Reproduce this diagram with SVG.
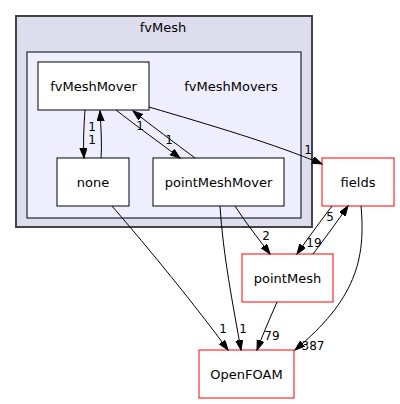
<svg xmlns="http://www.w3.org/2000/svg" width="400" height="404" viewBox="0 0 400 404">
<defs>
<marker id="ah" markerUnits="userSpaceOnUse" markerWidth="11" markerHeight="9" refX="10" refY="3.5" orient="auto">
<path d="M0,0 L10,3.5 L0,7 z" fill="#000" stroke="#000" stroke-width="1"/>
</marker>
</defs>
<style>
text{font-family:"DejaVu Sans","Liberation Sans",sans-serif;font-size:13px;fill:#000}
.c{text-anchor:middle}
.l{font-size:12px}
.node{fill:#fff;stroke:#000;stroke-width:1}
.red{fill:#fff;stroke:#ff0000;stroke-width:1}
.e{fill:none;stroke:#000;stroke-width:1;marker-end:url(#ah)}
</style>
<rect width="400" height="404" fill="#fff"/>
<g id="cluster_fvMesh">
<rect x="16" y="16" width="296" height="211" fill="#ddddee" stroke="#444444" stroke-width="2"/>
<text class="c" x="163" y="32">fvMesh</text>
</g>
<g id="cluster_fvMeshMovers">
<rect x="27" y="52" width="274" height="166" fill="#eeeeff" stroke="#000" stroke-width="1"/>
<text class="c" x="231" y="90.5">fvMeshMovers</text>
</g>
<g id="node_fvMeshMover">
<rect class="node" x="38" y="62" width="111" height="48"/>
<text class="c" x="93.5" y="90.5">fvMeshMover</text>
</g>
<g id="node_none">
<rect class="node" x="57" y="158" width="72" height="48"/>
<text class="c" x="93" y="186.5">none</text>
</g>
<g id="node_pointMeshMover">
<rect class="node" x="153" y="158" width="131" height="48"/>
<text class="c" x="218.5" y="186.5">pointMeshMover</text>
</g>
<g id="node_fields">
<rect class="red" x="322" y="158" width="72" height="48"/>
<text class="c" x="358" y="186.5">fields</text>
</g>
<g id="node_pointMesh">
<rect class="red" x="242" y="254" width="91" height="48"/>
<text class="c" x="287.5" y="282.5">pointMesh</text>
</g>
<g id="node_OpenFOAM">
<rect class="red" x="199" y="350" width="95" height="48"/>
<text class="c" x="246.5" y="378.5">OpenFOAM</text>
</g>
<g id="edges">
<path class="e" d="M85,110 C84,125 83,140 84,158"/>
<text class="c l" x="92" y="144">1</text>
<path class="e" d="M101,158 C102,145 101,128 100,111"/>
<text class="c l" x="92" y="131">1</text>
<path class="e" d="M116,110 C135,125 160,143 180,158"/>
<text class="c l" x="169" y="144">1</text>
<path class="e" d="M195,158 C175,143 152,126 133,111"/>
<text class="c l" x="140" y="130">1</text>
<path class="e" d="M149,107 C210,125 275,144 322,164"/>
<text class="c l" x="308" y="154">1</text>
<path class="e" d="M112,206 C150,250 195,305 228,350"/>
<text class="c l" x="223" y="333">1</text>
<path class="e" d="M220,206 C223,255 233,305 241,350"/>
<text class="c l" x="243" y="333">1</text>
<path class="e" d="M235,206 C245,222 258,238 270,254"/>
<text class="c l" x="266" y="240">2</text>
<path class="e" d="M332,206 C320,222 308,238 297,254"/>
<text class="c l" x="314" y="247">19</text>
<path class="e" d="M313,254 C325,238 337,222 348,206"/>
<text class="c l" x="330" y="221">5</text>
<path class="e" d="M277,302 C270,318 263,334 257,350"/>
<text class="c l" x="272" y="340">79</text>
<path class="e" d="M361,206 C366,260 355,300 295,350"/>
<text class="c l" x="313" y="350">387</text>
</g>
</svg>
